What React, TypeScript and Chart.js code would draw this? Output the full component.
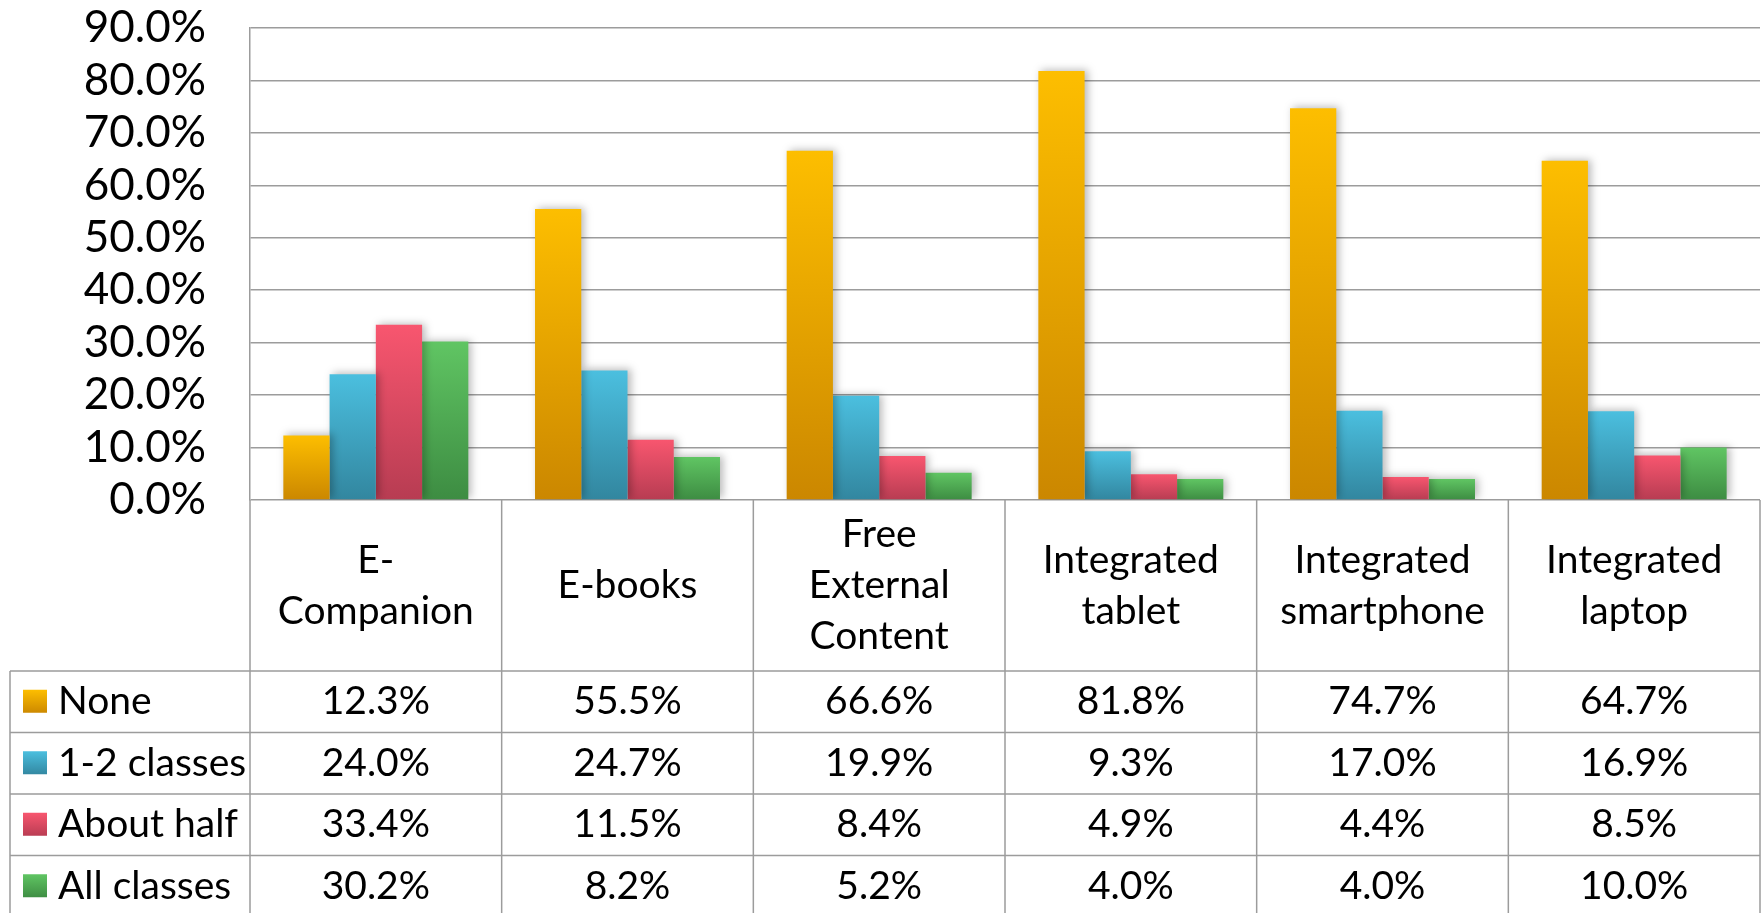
import React, { useEffect, useRef } from 'react';
import { Chart, registerables } from 'chart.js';

Chart.register(...registerables);

// ---------- data ----------
const categories: string[][] = [
  ['E-', 'Companion'],
  ['E-books'],
  ['Free', 'External', 'Content'],
  ['Integrated', 'tablet'],
  ['Integrated', 'smartphone'],
  ['Integrated', 'laptop'],
];
const seriesNames = ['None', '1-2 classes', 'About half', 'All classes'];
const noneValues = [12.3, 55.5, 66.6, 81.8, 74.7, 64.7];
const oneTwoValues = [24.0, 24.7, 19.9, 9.3, 17.0, 16.9];
const aboutHalfValues = [33.4, 11.5, 8.4, 4.9, 4.4, 8.5];
const allClassesValues = [30.2, 8.2, 5.2, 4.0, 4.0, 10.0];
const yMin = 0;
const yMax = 90;
const yStep = 10;

// ---------- styles ----------
const FONT = 'Lato, "Open Sans", sans-serif';
const TICK_SIZE = 44;
const TABLE_SIZE = 39;
const GRID = '#9c9c9c';
const seriesColors: [string, string][] = [
  ['#FDBE00', '#CB8700'],
  ['#4BBFDF', '#32869F'],
  ['#F8566F', '#B73C52'],
  ['#60C563', '#3D8C42'],
];
const seriesValues = [noneValues, oneTwoValues, aboutHalfValues, allClassesValues];

const W = 1763;
const H = 913;
const HEADER_BOTTOM = 671;
const ROW_H = 61.5;
const TABLE_LEFT = 10;

const fmt = (v: number) => v.toFixed(1) + '%';

function barGradient(c: any, idx: number) {
  const chart = c.chart;
  const y = chart.scales && chart.scales.y;
  const [top, bottom] = seriesColors[idx];
  if (!y || c.type !== 'data') return top;
  const v = typeof c.raw === 'number' ? c.raw : 0;
  const t = y.getPixelForValue(v);
  const b = y.getPixelForValue(0);
  if (!isFinite(t) || !isFinite(b) || t === b) return top;
  const g = chart.ctx.createLinearGradient(0, t, 0, b);
  g.addColorStop(0, top);
  g.addColorStop(1, bottom);
  return g;
}

const shadowPlugin = {
  id: 'barShadow',
  beforeDatasetsDraw(chart: any) {
    const ctx = chart.ctx;
    ctx.save();
    ctx.shadowColor = 'rgba(0,0,0,0.28)';
    ctx.shadowBlur = 8;
    ctx.shadowOffsetX = 3;
    ctx.shadowOffsetY = -1;
  },
  afterDatasetsDraw(chart: any) {
    chart.ctx.restore();
  },
};

const tablePlugin = {
  id: 'dataTable',
  afterDraw(chart: any) {
    const { ctx, chartArea, scales } = chart;
    const x = scales.x;
    const n = categories.length;
    const step = x.getPixelForValue(1) - x.getPixelForValue(0);
    const colLeft = (i: number) => x.getPixelForValue(i) - step / 2;
    const top = chartArea.bottom;
    const right = colLeft(n);
    const bottom = HEADER_BOTTOM + ROW_H * seriesNames.length;

    ctx.save();
    ctx.strokeStyle = GRID;
    ctx.lineWidth = 1.5;
    ctx.beginPath();
    for (let i = 0; i <= n; i++) {
      const px = colLeft(i);
      ctx.moveTo(px, top);
      ctx.lineTo(px, bottom);
    }
    ctx.moveTo(TABLE_LEFT, HEADER_BOTTOM);
    ctx.lineTo(TABLE_LEFT, bottom);
    for (let r = 0; r <= seriesNames.length; r++) {
      const py = HEADER_BOTTOM + ROW_H * r;
      ctx.moveTo(TABLE_LEFT, py);
      ctx.lineTo(right, py);
    }
    ctx.stroke();

    ctx.fillStyle = '#000';
    ctx.font = `${TABLE_SIZE}px ${FONT}`;
    ctx.textAlign = 'center';
    ctx.textBaseline = 'middle';
    const lineH = 51;
    const headerMid = (top + HEADER_BOTTOM) / 2;
    categories.forEach((lines, i) => {
      const cx = x.getPixelForValue(i);
      lines.forEach((l, j) => {
        ctx.fillText(l, cx, headerMid + (j - (lines.length - 1) / 2) * lineH);
      });
    });

    seriesNames.forEach((name, r) => {
      const cy = HEADER_BOTTOM + ROW_H * (r + 0.5);
      const [c1, c2] = seriesColors[r];
      const g = ctx.createLinearGradient(0, cy - 12, 0, cy + 12);
      g.addColorStop(0, c1);
      g.addColorStop(1, c2);
      ctx.fillStyle = g;
      ctx.fillRect(23, cy - 12, 24, 23);
      ctx.fillStyle = '#000';
      ctx.textAlign = 'left';
      ctx.fillText(name, 58, cy);
      ctx.textAlign = 'center';
      seriesValues[r].forEach((v, i) => {
        ctx.fillText(fmt(v), x.getPixelForValue(i), cy);
      });
    });
    ctx.restore();
  },
};

export default function App() {
  const ref = useRef<HTMLCanvasElement | null>(null);

  useEffect(() => {
    const canvas = ref.current;
    if (!canvas) return;
    const chart = new Chart(canvas, {
      type: 'bar',
      data: {
        labels: categories.map((c) => c.join(' ')),
        datasets: seriesNames.map((name, idx) => ({
          label: name,
          data: seriesValues[idx],
          backgroundColor: (c: any) => barGradient(c, idx),
          borderWidth: 0,
          categoryPercentage: 0.735,
          barPercentage: 1.0,
        })),
      },
      options: {
        responsive: false,
        animation: false,
        devicePixelRatio: 1,
        layout: { padding: { left: 0, top: 28, right: 3, bottom: H - 500 } },
        plugins: {
          legend: { display: false },
          tooltip: { enabled: false },
        },
        scales: {
          x: {
            display: true,
            ticks: { display: false },
            grid: { display: false, drawTicks: false },
            border: { display: false },
            afterFit: (s: any) => {
              s.height = 0;
            },
          },
          y: {
            min: yMin,
            max: yMax,
            ticks: {
              stepSize: yStep,
              autoSkip: false,
              color: '#000',
              padding: 0,
              font: { family: FONT, size: TICK_SIZE },
              callback: (v: any) => fmt(Number(v)),
            },
            grid: {
              color: GRID,
              lineWidth: 1.5,
              drawTicks: true,
              tickLength: 44,
              tickColor: 'rgba(0,0,0,0)',
            },
            border: { display: true, color: GRID, width: 1.5 },
            afterFit: (s: any) => {
              s.width = 250;
            },
          },
        },
      },
      plugins: [shadowPlugin, tablePlugin],
    });
    return () => chart.destroy();
  }, []);

  return (
    <div style={{ position: 'fixed', left: 0, top: 0, width: W, height: H, background: '#fff' }}>
      <canvas ref={ref} width={W} height={H} style={{ width: W, height: H, display: 'block' }} />
    </div>
  );
}
